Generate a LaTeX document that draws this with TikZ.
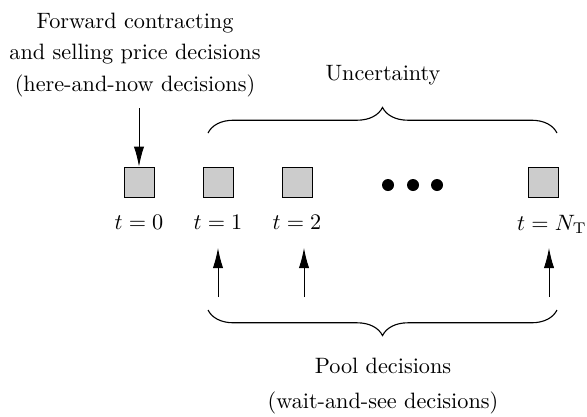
\documentclass[tikz,border=0pt]{standalone}
\usepackage{amsmath,amssymb}
\usepackage{xcolor}
\usepackage{tikz}
\usetikzlibrary{arrows.meta,positioning,decorations.pathreplacing}

\begin{document}
\begin{tikzpicture}[
  x=0.45pt, y=-0.45pt,
  stage/.style={draw, fill=gray!40, minimum size=13.5pt, inner sep=0pt},
  tlbl/.style={below=4.5pt of #1},
  dotnode/.style={circle, fill=black, minimum size=5.4pt, inner sep=0pt},
  arr/.style={-{Latex[length=9pt,width=4.6pt]}},
  brc/.style={decorate, line width=0.5pt, decoration={brace, amplitude=11.5pt}},
  txt/.style={align=center}
]
\useasboundingbox (0,0) rectangle (587,416);

% Time stages
\node[stage] (b0) at (139,182) {};
\node[stage] (b1) at (218,182) {};
\node[stage] (b2) at (297,182) {};
\node[stage] (bN) at (543,182) {};

\node[tlbl=b0] (l0) {$t = 0$};
\node[tlbl=b1] (l1) {$t = 1$};
\node[tlbl=b2] (l2) {$t = 2$};
\node[tlbl=bN, xshift=4pt] (lN) {$t = N_{\mathrm{T}}$};

% Ellipsis between stage 2 and the last stage
\node[dotnode] (d1) at (388,185) {};
\node[dotnode] (d2) at (413,185) {};
\node[dotnode] (d3) at (437,185) {};

% Here-and-now decisions
\node[txt] (hnow) at (135,55) {Forward contracting\\[2pt] and selling price decisions\\[2pt] (here-and-now decisions)};
\coordinate (h0) at (139,108);
\draw[arr] (h0) -- (b0.north);

% Uncertainty brace
\coordinate (ua) at (208,133);
\coordinate (ub) at (557,133);
\draw[brc] (ua) -- (ub);
\node (unc) at (383,75) {Uncertainty};

% Wait-and-see decisions
\foreach \n/\x in {1/218, 2/304, N/549} {
  \coordinate (p\n) at (\x,297);
  \coordinate (q\n) at (\x,248);
  \draw[arr] (p\n) -- (q\n);
}

\coordinate (wa) at (557,310);
\coordinate (wb) at (208,310);
\draw[brc] (wa) -- (wb);
\node[txt] (pool) at (383,386) {Pool decisions\\[4pt] (wait-and-see decisions)};

\end{tikzpicture}
\end{document}
